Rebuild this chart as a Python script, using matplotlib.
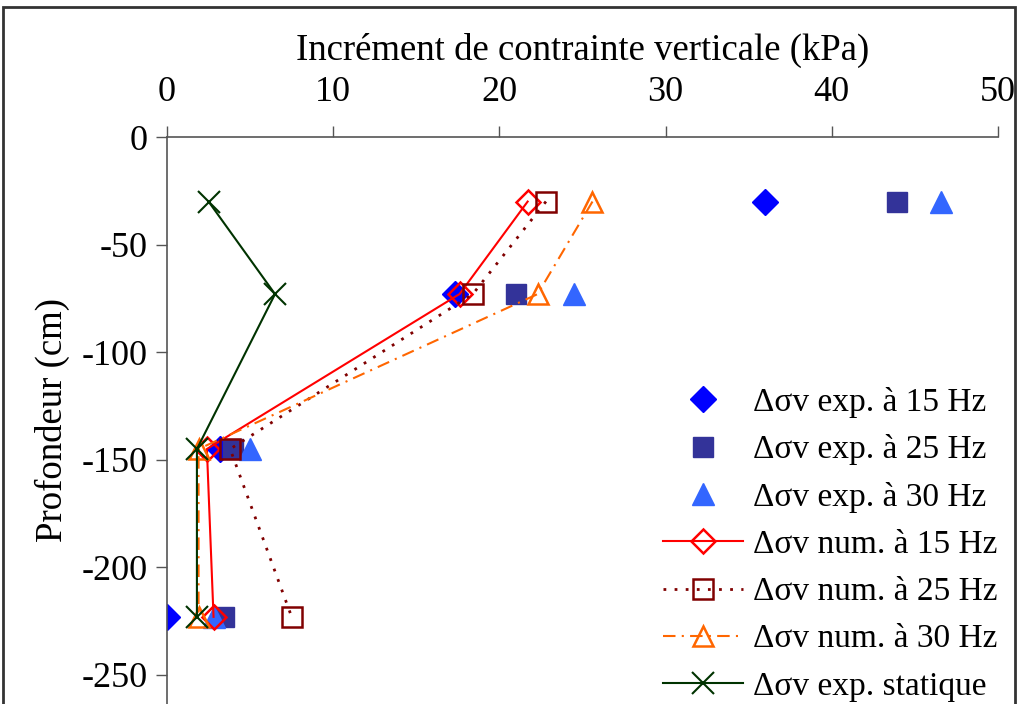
import matplotlib.pyplot as plt
from matplotlib.patches import Rectangle

plt.rcParams['font.family'] = ['Liberation Serif', 'DejaVu Serif']
plt.rcParams['axes.unicode_minus'] = False

depth = [-30, -73, -145, -223]
exp_15 = [36.0, 17.3, 3.2, 0.0]
exp_25 = [43.9, 21.0, 4.0, 3.4]
exp_30 = [46.6, 24.5, 5.0, 2.8]
num_15 = [21.7, 17.6, 2.4, 2.8]
num_25 = [22.8, 18.4, 3.8, 7.5]
num_30 = [25.6, 22.3, 1.9, 1.9]
static = [2.5, 6.5, 1.8, 1.8]
x_ticks = [0, 10, 20, 30, 40, 50]
y_ticks = [0, -50, -100, -150, -200, -250]

fig = plt.figure(figsize=(10.18, 7.04), dpi=100)
ax = fig.add_axes([167 / 1018, 0, 831 / 1018, 567 / 704])

ax.plot(exp_15, depth, ls='none', marker='D', ms=13, color='#0000FF', label='Δσv exp. à 15 Hz')
ax.plot(exp_25, depth, ls='none', marker='s', ms=14, color='#333399', label='Δσv exp. à 25 Hz')
ax.plot(exp_30, depth, ls='none', marker='^', ms=16, color='#3366FF', label='Δσv exp. à 30 Hz')
ax.plot(num_15, depth, ls='-', lw=1.5, marker='D', ms=12, mfc='none', mew=1.8, color='#FF0000',
        label='Δσv num. à 15 Hz')
ax.plot(num_25, depth, ls=(0, (1, 3)), lw=2, marker='s', ms=14, mfc='none', mew=1.8, color='#800000',
        label='Δσv num. à 25 Hz')
ax.plot(num_30, depth, ls=(0, (6, 3, 1, 3)), lw=1.5, marker='^', ms=15, mfc='none', mew=1.8,
        color='#FF6600', label='Δσv num. à 30 Hz')
ax.plot(static, depth, ls='-', lw=1.5, marker='x', ms=16, mew=1.5, color='#003300',
        label='Δσv exp. statique')

ax.set_xlim(0, 50)
ax.set_ylim(-263.5, 0)
ax.set_xticks(x_ticks)
ax.set_yticks(y_ticks)
ax.set_yticklabels([str(v) for v in y_ticks])
ax.xaxis.tick_top()
ax.xaxis.set_label_position('top')
ax.tick_params(axis='both', labelsize=26, length=8, width=1, direction='out', color='#555555')
ax.tick_params(axis='x', pad=12)
ax.tick_params(axis='y', pad=6)
ax.set_xlabel('Incrément de contrainte verticale (kPa)', fontsize=26.5, labelpad=12)
ax.set_ylabel('Profondeur (cm)', fontsize=26.5, labelpad=8)
for side in ['right', 'bottom']:
    ax.spines[side].set_visible(False)
for side in ['left', 'top']:
    ax.spines[side].set_color('#555555')
    ax.spines[side].set_linewidth(1.2)

ax.legend(loc='lower right', bbox_to_anchor=(1.02, -0.025), frameon=False, fontsize=24,
          handlelength=2.4, handletextpad=0.3, labelspacing=0.5, borderaxespad=0.1)

fig.patches.append(Rectangle((0.003, -0.01), 0.994, 1.0, transform=fig.transFigure,
                             fill=False, edgecolor='#333333', lw=2))

fig.savefig('out.png', dpi=100)
